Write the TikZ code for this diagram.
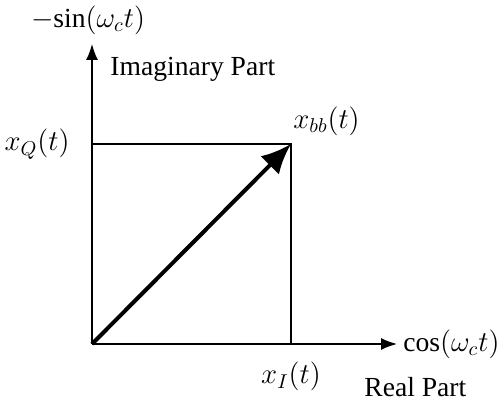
\documentclass[tikz,border=0pt]{standalone}
\usepackage{fontspec}
\setmainfont{Liberation Serif}
\usetikzlibrary{positioning,arrows.meta}
\tikzset{>=latex}
\tikzset{axisline/.style={line width=.75pt,-{Latex[length=8pt,width=6pt]}}}
\tikzset{vecline/.style={line width=2pt,-{Latex[length=15pt,width=13pt]}}}
\tikzset{mylabel/.style={font=\fontsize{13.8}{16}\selectfont,inner sep=1pt}}

\begin{document}
\begin{tikzpicture}[x=.5pt,y=-.5pt]
        \useasboundingbox (0,0) rectangle (499,400);
        \coordinate (o) at (92,344);
        \coordinate (ytop) at (92,44);
        \coordinate (xend) at (397,344);
        \coordinate (q) at (92,144);
        \coordinate (i) at (291,344);
        \coordinate (p) at (291,144);
        % axes and projections
        \draw[axisline] (o) -- (ytop);
        \draw[axisline] (o) -- (xend);
        \draw[line width=.75pt] (q) -- (p) -- (i);
        \draw[vecline] (o) -- (p);
        % labels
        \node[mylabel] (sin) at (88,20) {$\mathord{-}\!\sin(\omega_c t)$};
        \node[mylabel,anchor=west] (im) at (108,69) {Imaginary Part};
        \node[mylabel,left=10pt of q] (xq) {$x_Q(t)$};
        \node[mylabel,anchor=south west] (xbb) at (291,138) {$x_{bb}(t)$};
        \node[mylabel,anchor=west] (cos) at (401,344) {$\cos(\omega_c t)$};
        \node[mylabel,below=8pt of i] (xi) {$x_I(t)$};
        \node[mylabel,anchor=west] (re) at (362,387) {Real Part};
\end{tikzpicture}
\end{document}
